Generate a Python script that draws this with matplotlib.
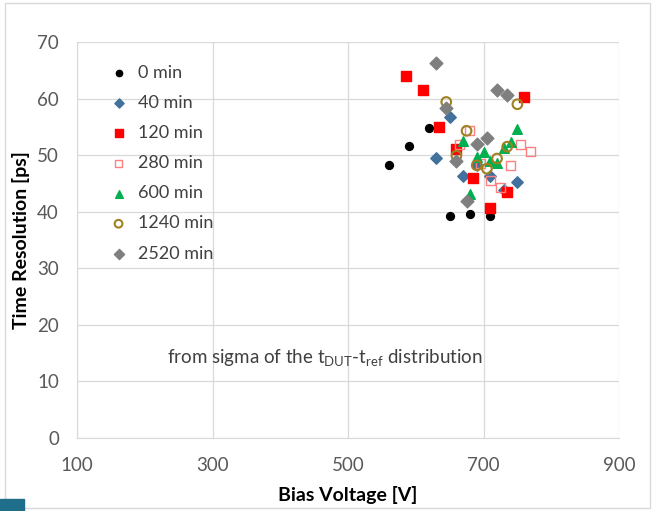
import matplotlib.pyplot as plt
from matplotlib.patches import Rectangle

plt.rcParams['font.family'] = ['Lato', 'DejaVu Sans']
plt.rcParams['mathtext.fontset'] = 'custom'
plt.rcParams['mathtext.rm'] = 'Lato'

# data (bias voltage [V], time resolution [ps])
v_0 = [560, 590, 620, 650, 680, 710]
t_0 = [48.2, 51.6, 54.8, 39.2, 39.6, 39.2]

v_40 = [630, 650, 670, 690, 710, 730, 750]
t_40 = [49.5, 56.7, 46.4, 48.2, 46.4, 43.9, 45.2]

v_120 = [585, 610, 635, 660, 685, 710, 735, 760]
t_120 = [64.0, 61.6, 55.0, 51.1, 46.0, 40.6, 43.4, 60.2]

v_280 = [665, 680, 695, 710, 725, 740, 755, 770]
t_280 = [51.9, 54.4, 48.5, 45.6, 44.2, 48.2, 51.9, 50.7]

v_600 = [670, 680, 690, 700, 710, 720, 730, 740, 750]
t_600 = [52.5, 43.2, 49.6, 50.5, 48.9, 48.6, 51.2, 52.3, 54.6]

v_1240 = [645, 660, 675, 690, 705, 720, 735, 750]
t_1240 = [59.4, 49.9, 54.3, 48.2, 47.6, 49.4, 51.5, 59.0]

v_2520 = [630, 645, 660, 675, 690, 705, 720, 735]
t_2520 = [66.2, 58.4, 48.9, 41.9, 51.9, 53.1, 61.6, 60.6]

x_ticks = [100, 300, 500, 700, 900]
y_ticks = [0, 10, 20, 30, 40, 50, 60, 70]

fig = plt.figure(figsize=(6.54, 5.11), dpi=100)
ax = fig.add_axes([77 / 654, 1 - 438 / 511, 542 / 654, 396 / 511])

ax.scatter(v_0, t_0, marker='o', s=32, color='black', label='0 min', zorder=3)
ax.scatter(v_40, t_40, marker='D', s=34, color='#41719C', label='40 min', zorder=3)
ax.scatter(v_120, t_120, marker='s', s=42, color='#FF0000', label='120 min', zorder=3)
ax.scatter(v_280, t_280, marker='s', s=42, facecolors='none', edgecolors='#FF8080',
           linewidths=1.0, label='280 min', zorder=3)
ax.scatter(v_600, t_600, marker='^', s=48, color='#00B050', label='600 min', zorder=3)
ax.scatter(v_1240, t_1240, marker='o', s=48, facecolors='none', edgecolors='#A08020',
           linewidths=1.5, label='1240 min', zorder=3)
ax.scatter(v_2520, t_2520, marker='D', s=42, color='#7F7F7F', label='2520 min', zorder=3)

ax.set_xlim(100, 900)
ax.set_ylim(0, 70)
ax.set_xticks(x_ticks)
ax.set_yticks(y_ticks)
ax.grid(True, color='#D9D9D9', linewidth=0.9, zorder=0)
ax.set_axisbelow(True)
for s in ['top', 'right']:
    ax.spines[s].set_visible(False)
for s in ['bottom', 'left']:
    ax.spines[s].set_color('#D9D9D9')
ax.tick_params(length=0, labelsize=13.5, labelcolor='#595959')
ax.tick_params(axis='x', pad=14)
ax.tick_params(axis='y', pad=13)

ax.set_xlabel('Bias Voltage [V]', fontsize=14, fontweight='bold', labelpad=8)
ax.set_ylabel('Time Resolution [ps]', fontsize=14, fontweight='bold', labelpad=5)

ax.legend(loc='upper left', bbox_to_anchor=(0.03, 0.96), frameon=False, fontsize=13,
          labelcolor='#404040', handletextpad=0.1, labelspacing=0.78, markerscale=0.8,
          borderaxespad=0)

ax.text(466, 14.1, r'from sigma of the t$_{\mathrm{DUT}}$-t$_{\mathrm{ref}}$ distribution',
        fontsize=13.5, color='#404040', ha='center', va='center')

# chart border and slide decoration
fig.patches.append(Rectangle((5 / 654, 3 / 511), 645 / 654, 505 / 511, transform=fig.transFigure,
                             fill=False, edgecolor='#D9D9D9', linewidth=1))
fig.patches.append(Rectangle((0, 0), 24 / 654, 12 / 511, transform=fig.transFigure,
                             color='#1F6F8B', zorder=5))

fig.savefig('out.png', dpi=100)
